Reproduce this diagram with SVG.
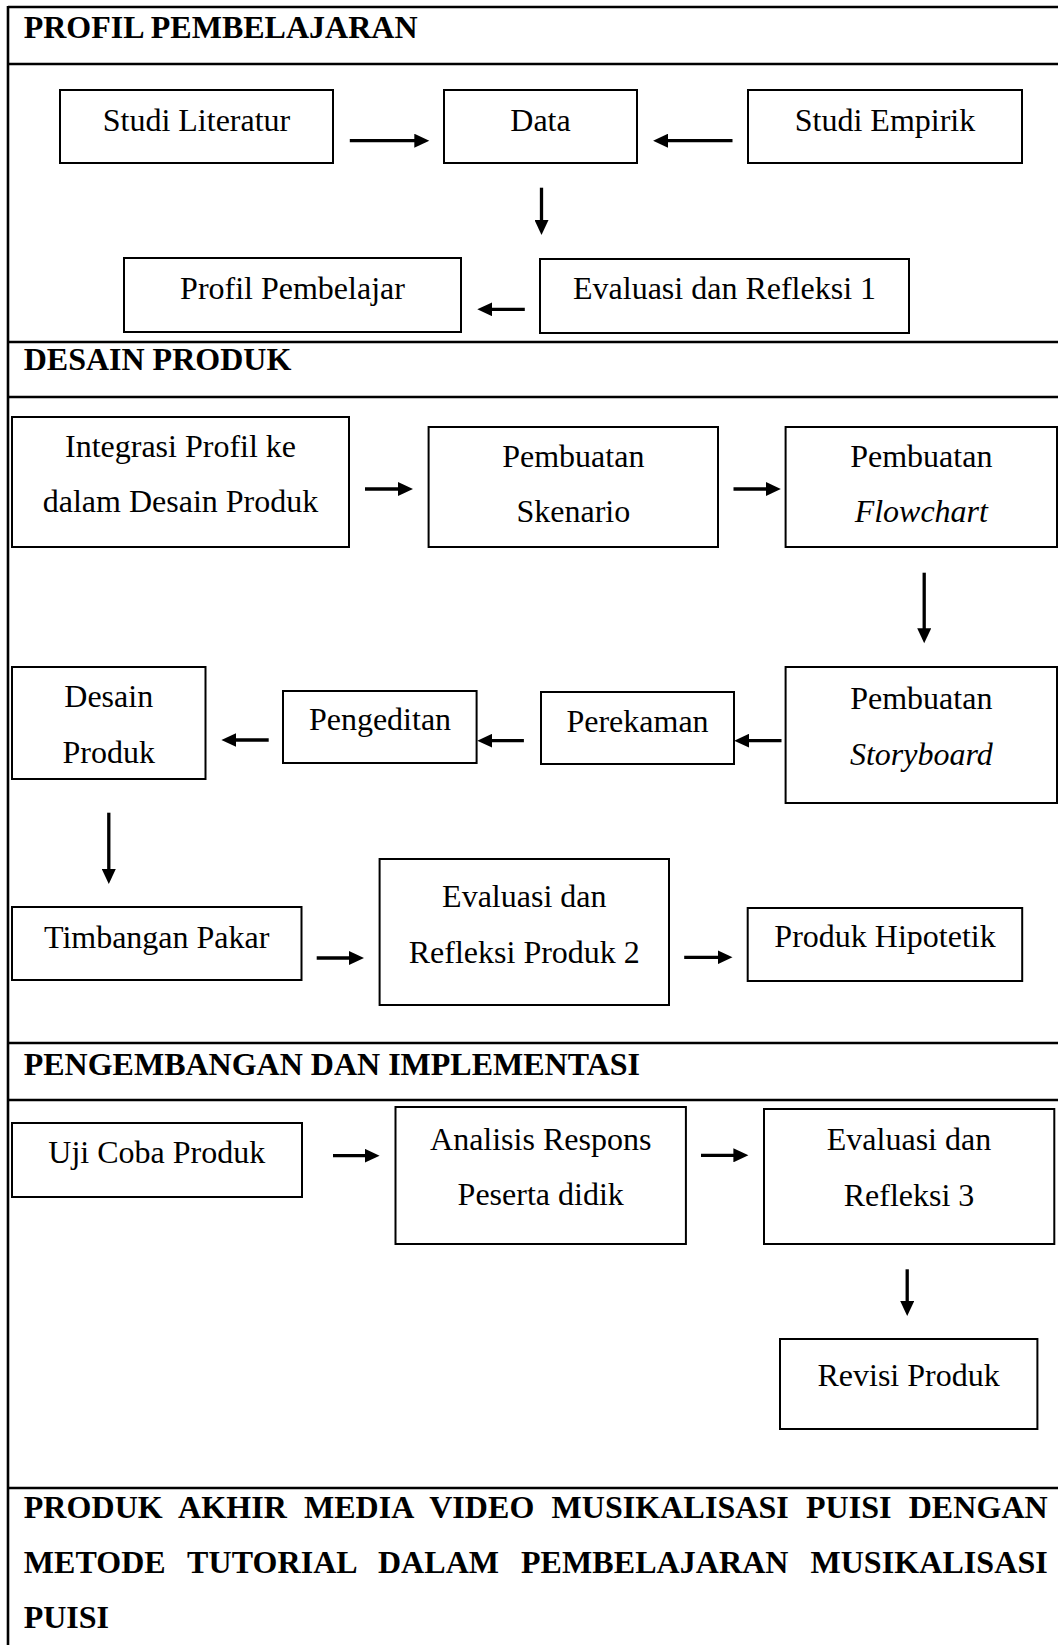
<svg xmlns="http://www.w3.org/2000/svg" width="1058" height="1645" viewBox="0 0 1058 1645">
<style>
.frame{stroke:#000;stroke-width:2.6;fill:none}
.box{fill:#fff;stroke:#000;stroke-width:2}
.t{font-family:"Liberation Serif","Times New Roman",serif;font-size:32px;fill:#000;text-anchor:middle}
.i{font-style:italic}
.h{font-family:"Liberation Serif","Times New Roman",serif;font-size:32px;font-weight:bold;fill:#000}
.c{stroke:#000;stroke-width:3.3;fill:none;marker-end:url(#ah)}
</style>
<defs>
<marker id="ah" markerUnits="userSpaceOnUse" markerWidth="16" markerHeight="14" refX="6" refY="7" orient="auto">
<path d="M0,0 L15,7 L0,14 z" fill="#000"/>
</marker>
</defs>
<rect width="1058" height="1645" fill="#fff"/>
<g id="frame">
<line class="frame" x1="8" y1="7" x2="1058" y2="7"/>
<line class="frame" x1="8" y1="6" x2="8" y2="1645"/>
<line class="frame" x1="8" y1="64" x2="1058" y2="64"/>
<line class="frame" x1="8" y1="342" x2="1058" y2="342"/>
<line class="frame" x1="8" y1="397" x2="1058" y2="397"/>
<line class="frame" x1="8" y1="1043" x2="1058" y2="1043"/>
<line class="frame" x1="8" y1="1100" x2="1058" y2="1100"/>
<line class="frame" x1="8" y1="1488" x2="1058" y2="1488"/>
</g>
<g id="headings">
<text class="h" x="23.7" y="37.5">PROFIL PEMBELAJARAN</text>
<text class="h" x="23.7" y="370">DESAIN PRODUK</text>
<text class="h" x="23.7" y="1075">PENGEMBANGAN DAN IMPLEMENTASI</text>
<text class="h" x="23.7" y="1518" word-spacing="8.9" textLength="1024" lengthAdjust="spacing">PRODUK AKHIR MEDIA VIDEO MUSIKALISASI PUISI DENGAN</text>
<text class="h" x="23.7" y="1573" word-spacing="13.8" textLength="1024" lengthAdjust="spacing">METODE TUTORIAL DALAM PEMBELAJARAN MUSIKALISASI</text>
<text class="h" x="23.7" y="1628">PUISI</text>
</g>
<g id="connectors">
<line class="c" x1="349.8" y1="140.7" x2="420.3" y2="140.7"/>
<line class="c" x1="732.5" y1="140.7" x2="662.1" y2="140.7"/>
<line class="c" x1="541.5" y1="187.7" x2="541.5" y2="226"/>
<line class="c" x1="524.8" y1="309.3" x2="486.3" y2="309.3"/>
<line class="c" x1="365" y1="489" x2="404" y2="489"/>
<line class="c" x1="733.5" y1="489" x2="771.8" y2="489"/>
<line class="c" x1="924.2" y1="572.7" x2="924.2" y2="634.3"/>
<line class="c" x1="781.5" y1="740.7" x2="743.2" y2="740.7"/>
<line class="c" x1="523.9" y1="740.7" x2="486.3" y2="740.7"/>
<line class="c" x1="268.7" y1="740" x2="230.4" y2="740"/>
<line class="c" x1="108.8" y1="812.7" x2="108.8" y2="875"/>
<line class="c" x1="316.7" y1="958" x2="355" y2="958"/>
<line class="c" x1="684.2" y1="957.3" x2="723.5" y2="957.3"/>
<line class="c" x1="333" y1="1155.7" x2="370.6" y2="1155.7"/>
<line class="c" x1="701" y1="1155.3" x2="739.4" y2="1155.3"/>
<line class="c" x1="907.2" y1="1269.3" x2="907.2" y2="1307"/>
</g>
<g id="n_studi_literatur"><rect class="box" x="60" y="90" width="273" height="73"/><text class="t" x="196.5" y="131">Studi Literatur</text></g>
<g id="n_data"><rect class="box" x="444" y="90" width="193" height="73"/><text class="t" x="540.5" y="131">Data</text></g>
<g id="n_studi_empirik"><rect class="box" x="748" y="90" width="274" height="73"/><text class="t" x="885" y="131">Studi Empirik</text></g>
<g id="n_eval1"><rect class="box" x="540" y="259" width="369" height="74"/><text class="t" x="724.5" y="299">Evaluasi dan Refleksi 1</text></g>
<g id="n_profil"><rect class="box" x="124" y="258" width="337" height="74"/><text class="t" x="292.5" y="298.5">Profil Pembelajar</text></g>
<g id="n_integrasi"><rect class="box" x="12" y="417" width="337" height="130"/><text class="t" x="180.5" y="457">Integrasi Profil ke</text><text class="t" x="180.5" y="512">dalam Desain Produk</text></g>
<g id="n_skenario"><rect class="box" x="428.6" y="427" width="289.4" height="120"/><text class="t" x="573.3" y="467">Pembuatan</text><text class="t" x="573.3" y="522">Skenario</text></g>
<g id="n_flowchart"><rect class="box" x="785.6" y="427" width="271.4" height="120"/><text class="t" x="921.3" y="467">Pembuatan</text><text class="t i" x="921.3" y="522">Flowchart</text></g>
<g id="n_storyboard"><rect class="box" x="785.6" y="667" width="271.4" height="136"/><text class="t" x="921.3" y="709">Pembuatan</text><text class="t i" x="921.3" y="765">Storyboard</text></g>
<g id="n_perekaman"><rect class="box" x="541" y="692" width="193" height="72"/><text class="t" x="637.5" y="732">Perekaman</text></g>
<g id="n_pengeditan"><rect class="box" x="283" y="691" width="193.6" height="72"/><text class="t" x="380" y="730">Pengeditan</text></g>
<g id="n_desain"><rect class="box" x="12" y="667" width="193.5" height="112"/><text class="t" x="108.7" y="707">Desain</text><text class="t" x="108.7" y="763">Produk</text></g>
<g id="n_timbangan"><rect class="box" x="12" y="907" width="289.5" height="73"/><text class="t" x="156.7" y="948">Timbangan Pakar</text></g>
<g id="n_eval2"><rect class="box" x="379.6" y="859" width="289.4" height="146"/><text class="t" x="524.3" y="907">Evaluasi dan</text><text class="t" x="524.3" y="963">Refleksi Produk 2</text></g>
<g id="n_hipotetik"><rect class="box" x="747.7" y="908" width="274.5" height="73"/><text class="t" x="885" y="947">Produk Hipotetik</text></g>
<g id="n_uji"><rect class="box" x="12" y="1123" width="290" height="74"/><text class="t" x="156.8" y="1163">Uji Coba Produk</text></g>
<g id="n_analisis"><rect class="box" x="395.5" y="1107" width="290.4" height="137"/><text class="t" x="540.7" y="1150">Analisis Respons</text><text class="t" x="540.7" y="1205">Peserta didik</text></g>
<g id="n_eval3"><rect class="box" x="764" y="1109" width="290.3" height="135"/><text class="t" x="909" y="1150">Evaluasi dan</text><text class="t" x="909" y="1206">Refleksi 3</text></g>
<g id="n_revisi"><rect class="box" x="780" y="1339" width="257.4" height="90"/><text class="t" x="908.6" y="1386">Revisi Produk</text></g>
</svg>
